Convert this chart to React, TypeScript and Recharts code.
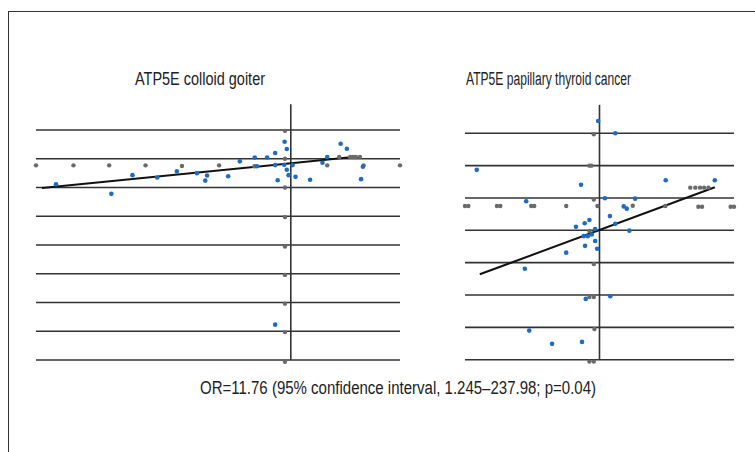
import React from "react"
import { ReferenceLine, Scatter, ScatterChart, XAxis, YAxis } from "recharts"

const FONT = "'Liberation Sans', Arial, sans-serif"
const BLUE = "#1d6cc4"
const GREY = "#6a6a6a"
const LINE = "#333333"

// colloid goiter panel
const goiterRows = [1, 0, -1, -2, -3, -4, -5, -6, -7]
const goiterBlue = [
  { x: -6.45, y: -0.89 }, { x: -4.93, y: -1.22 }, { x: -4.35, y: -0.57 }, { x: -3.67, y: -0.65 },
  { x: -3.13, y: -0.44 }, { x: -2.58, y: -0.5 }, { x: -2.3, y: -0.58 }, { x: -2.35, y: -0.76 },
  { x: -1.72, y: -0.61 }, { x: -1.4, y: -0.09 }, { x: -0.99, y: 0.04 }, { x: -0.93, y: -0.26 },
  { x: -0.65, y: 0.04 }, { x: -0.43, y: 0.2 }, { x: -0.43, y: -0.22 }, { x: -0.36, y: -0.75 },
  { x: -0.17, y: 0.59 }, { x: -0.11, y: 0.34 }, { x: -0.18, y: -0.21 }, { x: -0.11, y: -0.38 },
  { x: -0.06, y: -0.57 }, { x: 0.05, y: -0.22 }, { x: 0.13, y: -0.63 }, { x: 0.53, y: -0.73 },
  { x: 0.87, y: -0.14 }, { x: 1.0, y: 0.06 }, { x: 1.37, y: 0.52 }, { x: 1.54, y: 0.35 },
  { x: 1.98, y: -0.28 }, { x: 1.93, y: -0.71 }, { x: -0.43, y: -5.77 },
]
const goiterGrey = [
  { x: -7, y: -0.23 }, { x: -5.97, y: -0.23 }, { x: -4.99, y: -0.23 }, { x: -3.99, y: -0.23 },
  { x: -2.99, y: -0.25 }, { x: -1.97, y: -0.23 }, { x: -1.0, y: -0.26 }, { x: 1.0, y: -0.23 },
  { x: 2.0, y: -0.23 }, { x: 3.0, y: -0.23 },
  { x: 1.33, y: 0.06 }, { x: 1.63, y: 0.06 }, { x: 1.71, y: 0.06 }, { x: 1.79, y: 0.06 }, { x: 1.9, y: 0.06 },
  { x: -0.16, y: 0.97 }, { x: -0.16, y: -0.0 }, { x: -0.16, y: -1.0 }, { x: -0.16, y: -2.03 },
  { x: -0.16, y: -3.05 }, { x: -0.16, y: -4.04 }, { x: -0.16, y: -5.04 }, { x: -0.16, y: -6.03 },
  { x: -0.16, y: -7.06 },
]
const goiterFit = [{ x: -6.84, y: -1.02 }, { x: 1.57, y: 0.04 }]

// papillary thyroid cancer panel
const cancerRows = [3, 2, 1, 0, -1, -2, -3, -4]
const cancerBlue = [
  { x: -0.04, y: 3.38 }, { x: -3.65, y: 1.87 }, { x: -0.55, y: 1.41 }, { x: -2.18, y: 0.9 },
  { x: 0.16, y: 0.99 }, { x: 0.31, y: 0.44 }, { x: -0.3, y: 0.32 }, { x: -0.44, y: 0.22 },
  { x: -0.7, y: 0.11 }, { x: -0.13, y: 0.04 }, { x: -0.47, y: -0.18 }, { x: -0.35, y: -0.18 },
  { x: -0.23, y: -0.13 }, { x: -0.13, y: -0.33 }, { x: -0.43, y: -0.48 }, { x: -0.07, y: -0.57 },
  { x: -0.99, y: -0.69 }, { x: 0.47, y: 3.0 }, { x: 1.97, y: 1.55 }, { x: 3.43, y: 1.55 },
  { x: 1.06, y: 0.98 }, { x: 0.72, y: 0.74 }, { x: 0.81, y: 0.67 }, { x: 0.47, y: 0.2 },
  { x: 0.89, y: -0.01 }, { x: -2.22, y: -1.19 }, { x: -0.41, y: -2.12 }, { x: 0.32, y: -2.04 },
  { x: -2.09, y: -3.1 }, { x: -1.41, y: -3.51 }, { x: -0.52, y: -3.45 },
]
const cancerGrey = [
  { x: -4.0, y: 0.75 }, { x: -3.9, y: 0.75 }, { x: -3.05, y: 0.75 }, { x: -2.95, y: 0.75 },
  { x: -2.03, y: 0.75 }, { x: -1.94, y: 0.75 }, { x: -0.99, y: 0.75 }, { x: -0.06, y: 0.75 },
  { x: 0.99, y: 0.76 }, { x: 1.96, y: 0.75 }, { x: 2.94, y: 0.73 }, { x: 3.05, y: 0.73 },
  { x: 3.9, y: 0.73 }, { x: 4.0, y: 0.73 },
  { x: 2.7, y: 1.32 }, { x: 2.85, y: 1.32 }, { x: 2.99, y: 1.32 }, { x: 3.11, y: 1.32 }, { x: 3.24, y: 1.32 },
  { x: -0.17, y: 2.97 }, { x: -0.3, y: 2.0 }, { x: -0.24, y: 2.0 }, { x: -0.17, y: 0.95 },
  { x: -0.3, y: -0.02 }, { x: -0.17, y: -1.04 }, { x: -0.3, y: -2.06 }, { x: -0.17, y: -2.06 },
  { x: -0.15, y: -3.05 }, { x: -0.3, y: -4.06 }, { x: -0.17, y: -4.06 },
]
const cancerFit = [{ x: -3.56, y: -1.36 }, { x: 3.43, y: 1.33 }]

const dot = (fill: string, r: number) => (props: any) => (
  <circle cx={props.cx} cy={props.cy} r={r} fill={fill} />
)

type PanelProps = {
  width: number
  margin: { top: number; right: number; bottom: number; left: number }
  xDomain: [number, number]
  yDomain: [number, number]
  xSpan: [number, number]
  axisTop: number
  rows: number[]
  blue: { x: number; y: number }[]
  grey: { x: number; y: number }[]
  fit: { x: number; y: number }[]
}

function Panel(p: PanelProps) {
  const bottom = p.rows[p.rows.length - 1]
  return (
    <ScatterChart width={p.width} height={452} margin={p.margin}>
      <XAxis type="number" dataKey="x" domain={p.xDomain} hide />
      <YAxis type="number" dataKey="y" domain={p.yDomain} hide />
      {p.rows.map((r) => (
        <ReferenceLine
          key={r}
          segment={[{ x: p.xSpan[0], y: r }, { x: p.xSpan[1], y: r }]}
          stroke={LINE}
          strokeWidth={1.6}
        />
      ))}
      <ReferenceLine
        segment={[{ x: 0, y: bottom }, { x: 0, y: p.axisTop }]}
        stroke={LINE}
        strokeWidth={1.6}
      />
      <Scatter data={p.grey} fill={GREY} shape={dot(GREY, 2.2)} isAnimationActive={false} />
      <Scatter data={p.blue} fill={BLUE} shape={dot(BLUE, 2.3)} isAnimationActive={false} />
      <ReferenceLine segment={[p.fit[0], p.fit[1]]} stroke="#111" strokeWidth={2} />
    </ScatterChart>
  )
}

export default function App() {
  return (
    <div style={{ position: "absolute", left: 0, top: 0, width: 755, height: 452, background: "#fff", overflow: "hidden" }}>
      <div style={{ position: "absolute", left: 8, top: 11, right: 0, bottom: 0, borderLeft: "1px solid #333", borderTop: "1px solid #333" }} />
      <div style={{ position: "absolute", left: 0, top: 0 }}>
        <Panel
          width={420}
          margin={{ top: 101.25, right: 12.72, bottom: 86.25, left: 28.72 }}
          xDomain={[-7.2, 3.2]}
          yDomain={[-7.2, 2]}
          xSpan={[-7, 3]}
          axisTop={1.9}
          rows={goiterRows}
          blue={goiterBlue}
          grey={goiterGrey}
          fit={goiterFit}
        />
      </div>
      <div style={{ position: "absolute", left: 420, top: 0 }}>
        <Panel
          width={335}
          margin={{ top: 100.96, right: 14.28, bottom: 85.85, left: 38.28 }}
          xDomain={[-4.2, 4.2]}
          yDomain={[-4.2, 4]}
          xSpan={[-4, 4]}
          axisTop={3.88}
          rows={cancerRows}
          blue={cancerBlue}
          grey={cancerGrey}
          fit={cancerFit}
        />
      </div>
      <svg width={755} height={452} style={{ position: "absolute", left: 0, top: 0, pointerEvents: "none" }}>
        <g fontFamily={FONT} fontSize={18} fill="#222">
          <text x={135} y={85} textLength={130} lengthAdjust="spacingAndGlyphs">ATP5E colloid goiter</text>
          <text x={466} y={85} textLength={165} lengthAdjust="spacingAndGlyphs">ATP5E papillary thyroid cancer</text>
          <text x={200} y={394} textLength={396} lengthAdjust="spacingAndGlyphs">OR=11.76 (95% confidence interval, 1.245–237.98; p=0.04)</text>
        </g>
      </svg>
    </div>
  )
}
